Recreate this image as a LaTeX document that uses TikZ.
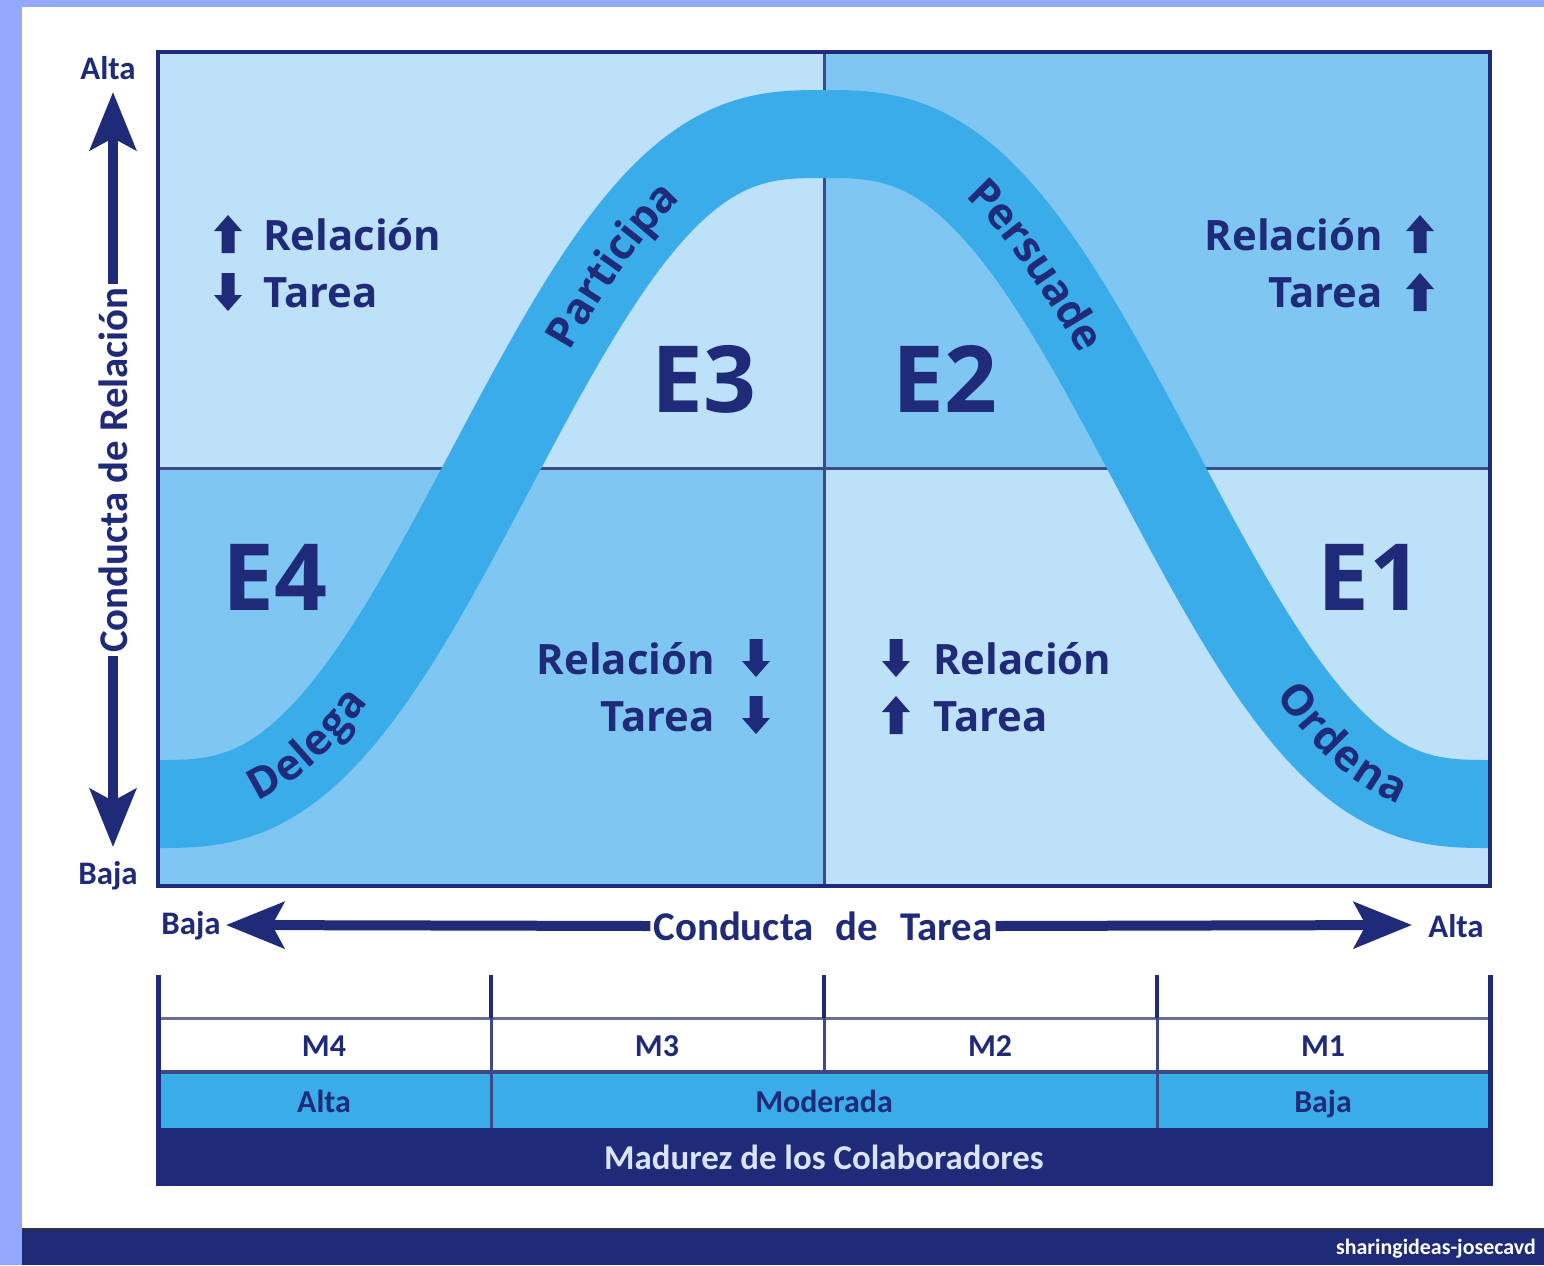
\documentclass[tikz,border=0pt]{standalone}
\usepackage{fontspec}
\setmainfont{Carlito}
\newfontfamily\osans{Open Sans}
\usetikzlibrary{arrows.meta,decorations.text}
\definecolor{navy}{HTML}{1F2A78}
\definecolor{lightq}{HTML}{BCE1F8}
\definecolor{medq}{HTML}{7FC6F3}
\definecolor{bandc}{HTML}{3BACEA}
\definecolor{violetbg}{HTML}{94A8FE}
\definecolor{divc}{HTML}{3C4B86}
\definecolor{grayline}{HTML}{6A6F90}
\definecolor{paletext}{HTML}{D9E3FA}
\tikzset{
  elab/.style={text=navy, font=\osans\bfseries\fontsize{93}{96}\selectfont, inner sep=0pt},
  qlab/.style={text=navy, font=\osans\bfseries\fontsize{42}{46}\selectfont, inner sep=0pt},
  axlab/.style={text=navy, font=\bfseries\fontsize{33}{36}\selectfont, inner sep=0pt},
  bigax/.style={text=navy, font=\bfseries\fontsize{41}{44}\selectfont, inner sep=3bp},
  tablab/.style={text=navy, font=\bfseries\fontsize{32}{36}\selectfont, inner sep=0pt, anchor=base},
  axisline/.style={navy, line width=10bp, -{Stealth[length=58bp,width=46bp,inset=12bp]}},
  curvetext/.style={decorate, decoration={text along path, text align=center, raise=-13bp,
      text color=navy, text={|\osans\bfseries\fontsize{43}{46}\selectfont|#1}}},
  uparr/.pic={\fill[navy] (0,-19)--(14,-3)--(6.5,-3)--(6.5,19)--(-6.5,19)--(-6.5,-3)--(-14,-3)--cycle;},
  dnarr/.pic={\fill[navy] (0,19)--(14,3)--(6.5,3)--(6.5,-19)--(-6.5,-19)--(-6.5,3)--(-14,3)--cycle;}
}
\begin{document}
\begin{tikzpicture}[x={(1bp,0)}, y={(0,-1bp)},
  declare function={gg(\u)=(15*\u-10*\u*\u*\u+3*\u*\u*\u*\u*\u)/8; cy(\v)=469+335*gg((abs(\v-824)-333)/333);}]
\useasboundingbox (0,0) rectangle (1544,1265);
% background
\fill[violetbg] (0,0) rectangle (1544,1265);
\fill[white] (22,7) rectangle (1544,1228);
\fill[navy] (22,1228) rectangle (1544,1265);
\draw[black!80, line width=2bp] (22,1229) -- (1544,1229);
\node[anchor=east, text=white, font=\bfseries\fontsize{22}{24}\selectfont, inner sep=0pt] (wm) at (1536,1249) {sharingideas-josecavd};

% quadrants
\fill[lightq] (158,52) rectangle (824,468);
\fill[medq] (824,52) rectangle (1490,468);
\fill[medq] (158,468) rectangle (824,886);
\fill[lightq] (824,468) rectangle (1490,886);
\draw[divc, line width=3bp] (824,52) -- (824,886);
\draw[divc, line width=3bp] (158,468) -- (1490,468);

% band
\begin{scope}
\clip (158,52) rectangle (1490,886);
\draw[bandc, line width=88bp] plot[domain=140:1508, samples=300] (\x,{cy(\x)});
\end{scope}
\draw[navy, line width=4bp] (158,52) rectangle (1490,886);

% curve labels
\path[curvetext=Participa] plot[domain=528:722, samples=60] (\x,{cy(\x)});
\path[curvetext=Persuade] plot[domain=926:1120, samples=60] (\x,{cy(\x)});
\path[curvetext=Delega] plot[domain=200:388, samples=60] (\x,{cy(\x)});
\path[curvetext=Ordena] plot[domain=1260:1448, samples=60] (\x,{cy(\x)});

% E labels
\node[elab, anchor=base] (e3) at (704,412) {E3};
\node[elab, anchor=base] (e2) at (945,412) {E2};
\node[elab, anchor=base] (e4) at (275,610) {E4};
\node[elab, anchor=base] (e1) at (1370,610) {E1};

% quadrant texts
\pic at (228,234) {uparr};
\node[qlab, anchor=base west] (tl1) at (263,250) {Relación};
\pic at (228,292) {dnarr};
\node[qlab, anchor=base west] (tl2) at (263,307) {Tarea};

\node[qlab, anchor=base east] (tr1) at (1383,250) {Relación};
\pic at (1420,234) {uparr};
\node[qlab, anchor=base east] (tr2) at (1383,307) {Tarea};
\pic at (1420,292) {uparr};

\node[qlab, anchor=base east] (bl1) at (715,674) {Relación};
\pic at (756,658) {dnarr};
\node[qlab, anchor=base east] (bl2) at (715,731) {Tarea};
\pic at (756,715) {dnarr};

\pic at (896,658) {dnarr};
\node[qlab, anchor=base west] (br1) at (933,674) {Relación};
\pic at (896,715) {uparr};
\node[qlab, anchor=base west] (br2) at (933,731) {Tarea};

% vertical axis
\node[axlab] (valta) at (108,68) {Alta};
\node[axlab] (vbaja) at (108,876) {Baja};
\node[bigax, rotate=90] (vlab) at (113,470) {Conducta de Relación};
\coordinate (vtop) at (113,92);
\coordinate (vbot) at (113,847);
\draw[axisline] (vlab.east) -- (vtop);
\draw[axisline] (vlab.west) -- (vbot);

% horizontal axis
\node[axlab] (hbaja) at (191,926) {Baja};
\node[axlab] (halta) at (1456,926) {Alta};
\node[bigax] (hlab) at (823,926) {Conducta\hspace{22bp}de\hspace{22bp}Tarea};
\coordinate (hleft) at (226,925);
\coordinate (hright) at (1412,925);
\draw[axisline] (hlab.west) -- (hleft);
\draw[axisline] (hlab.east) -- (hright);

% table
\fill[bandc] (158,1072) rectangle (1490,1128);
\fill[navy] (156,1128) rectangle (1492,1186);
\draw[grayline, line width=3bp] (158,1018) -- (1490,1018);
\draw[divc, line width=4bp] (158,1072) -- (1490,1072);
\draw[navy, line width=5bp] (158,975) -- (158,1186);
\draw[navy, line width=5bp] (1490,975) -- (1490,1186);
\draw[navy, line width=4bp] (491,975) -- (491,1018);
\draw[navy, line width=4bp] (824,975) -- (824,1018);
\draw[navy, line width=4bp] (1157,975) -- (1157,1018);
\draw[divc, line width=3bp] (491,1018) -- (491,1128);
\draw[divc, line width=3bp] (824,1018) -- (824,1072);
\draw[divc, line width=3bp] (1157,1018) -- (1157,1128);
\node[tablab] (m4) at (324,1056) {M4};
\node[tablab] (m3) at (657,1056) {M3};
\node[tablab] (m2) at (990,1056) {M2};
\node[tablab] (m1) at (1323,1056) {M1};
\node[tablab] (ralta) at (324,1112) {Alta};
\node[tablab] (rmod) at (824,1112) {Moderada};
\node[tablab] (rbaja) at (1323,1112) {Baja};
\node[tablab, text=paletext, font=\bfseries\fontsize{35}{38}\selectfont] (madurez) at (824,1169) {Madurez de los Colaboradores};
\end{tikzpicture}
\end{document}
